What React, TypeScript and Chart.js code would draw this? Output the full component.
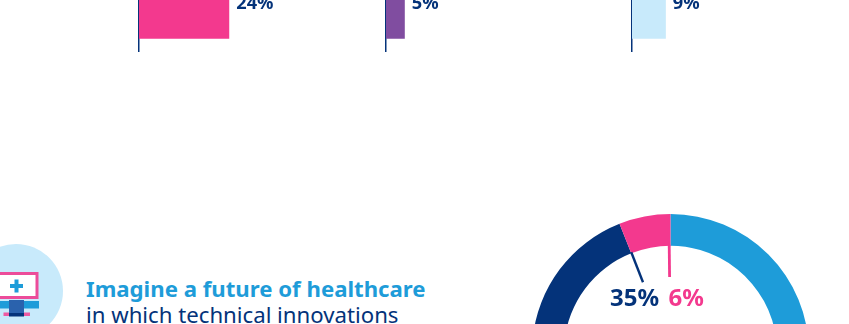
import React, { useEffect, useRef } from "react";
import { Chart, registerables } from "chart.js";

Chart.register(...registerables);

const NAVY = "#04337a";
const BLUE = "#1e9cd9";
const PINK = "#f3398e";
const PURPLE = "#804da0";
const PALE = "#c8eafb";

const barCategories = ["Option A", "Option B", "Option C"];
const barValues = [24, 5, 9];
const barColors = [PINK, PURPLE, PALE];
const barLefts = [136.5, 383.5, 629.5];

const ringLabels = ["Blue", "Navy", "Pink"];
const ringValues = [59, 35, 6];
const ringColors = [BLUE, NAVY, PINK];

const headline = "Imagine a future of healthcare";
const subline = "in which technical innovations";

const FONT = '"Noto Sans", sans-serif';

function PercentBar({ index }: { index: number }) {
  const ref = useRef<HTMLCanvasElement>(null);
  useEffect(() => {
    const chart = new Chart(ref.current!, {
      type: "bar",
      data: {
        labels: [barCategories[index]],
        datasets: [
          {
            data: [barValues[index]],
            backgroundColor: barColors[index],
            barPercentage: 0.74,
            categoryPercentage: 1,
          },
        ],
      },
      options: {
        indexAxis: "y",
        animation: false,
        responsive: false,
        layout: { padding: { left: 2, right: 0, top: 0, bottom: 0 } },
        plugins: { legend: { display: false }, tooltip: { enabled: false } },
        scales: {
          x: { display: false, min: 0, max: 50 },
          y: {
            grid: { display: false, drawTicks: false },
            border: { color: NAVY, width: 1.5 },
            ticks: { display: false },
          },
        },
      },
      plugins: [
        {
          id: "valueLabel",
          afterDatasetsDraw(c) {
            const bar = c.getDatasetMeta(0).data[0];
            const g = c.ctx;
            g.save();
            g.font = `700 18.2px ${FONT}`;
            g.fillStyle = NAVY;
            g.textAlign = "left";
            g.textBaseline = "alphabetic";
            g.fillText(`${barValues[index]}%`, bar.x + 7, bar.y + 7.5);
            g.restore();
          },
        },
      ],
    });
    return () => chart.destroy();
  }, [index]);
  return (
    <canvas
      ref={ref}
      width={190}
      height={101}
      style={{ position: "absolute", left: barLefts[index], top: -49, width: 190, height: 101 }}
    />
  );
}

function Ring() {
  const ref = useRef<HTMLCanvasElement>(null);
  useEffect(() => {
    const chart = new Chart(ref.current!, {
      type: "doughnut",
      data: {
        labels: ringLabels,
        datasets: [{ data: ringValues, backgroundColor: ringColors, borderWidth: 0 }],
      },
      options: {
        animation: false,
        responsive: false,
        cutout: "77%",
        plugins: { legend: { display: false }, tooltip: { enabled: false } },
      },
      plugins: [
        {
          id: "leaders",
          afterDatasetsDraw(c) {
            const g = c.ctx;
            const arcs = c.getDatasetMeta(0).data as any[];
            const spoke = (angle: number, from: number, to: number, color: string, w: number) => {
              const { x, y } = arcs[0];
              g.beginPath();
              g.moveTo(x + Math.cos(angle) * from, y + Math.sin(angle) * from);
              g.lineTo(x + Math.cos(angle) * to, y + Math.sin(angle) * to);
              g.strokeStyle = color;
              g.lineWidth = w;
              g.stroke();
            };
            const inner = arcs[0].innerRadius;
            g.save();
            spoke(arcs[2].startAngle + 0.004, inner + 1, 75.5, NAVY, 2.4);
            spoke(arcs[2].endAngle - 0.012, inner + 1, 75.5, PINK, 2.8);
            g.font = `700 24px ${FONT}`;
            g.textBaseline = "alphabetic";
            g.textAlign = "left";
            g.fillStyle = NAVY;
            g.fillText(`${ringValues[1]}%`, 78, 92);
            g.fillStyle = PINK;
            g.fillText(`${ringValues[2]}%`, 136.5, 92);
            g.restore();
          },
        },
      ],
    });
    return () => chart.destroy();
  }, []);
  return (
    <canvas
      ref={ref}
      width={277}
      height={277}
      style={{ position: "absolute", left: 532, top: 214, width: 277, height: 277 }}
    />
  );
}

function MonitorBadge() {
  return (
    <svg
      width={70}
      height={84}
      viewBox="0 0 70 84"
      style={{ position: "absolute", left: 0, top: 240 }}
    >
      <circle cx={16} cy={51} r={47} fill={PALE} />
      <rect x={-6} y={33.5} width={43} height={24} fill="#fff" stroke="#ec4c9a" strokeWidth={3} />
      <rect x={-6} y={61} width={45} height={7.5} fill={BLUE} />
      <rect x={3.5} y={72.5} width={26.5} height={3.5} fill="#ee5ba2" />
      <rect x={9} y={60} width={15} height={13} fill="#2a62ad" />
      <rect x={9} y={73} width={15} height={3.5} fill={NAVY} />
      <rect x={10} y={44} width={13} height={4} fill={BLUE} />
      <rect x={14.5} y={39.5} width={4} height={13} fill={BLUE} />
    </svg>
  );
}

export default function App() {
  return (
    <div
      style={{
        position: "fixed",
        left: 0,
        top: 0,
        width: 849,
        height: 324,
        overflow: "hidden",
        background: "#fff",
      }}
    >
      {barValues.map((_, i) => (
        <PercentBar key={i} index={i} />
      ))}
      <Ring />
      <MonitorBadge />
      <div
        style={{
          position: "absolute",
          left: 86,
          top: 276,
          fontFamily: FONT,
          fontSize: 22.2,
          lineHeight: "26px",
          whiteSpace: "nowrap",
          color: NAVY,
        }}
      >
        <div style={{ fontWeight: 700, color: BLUE }}>{headline}</div>
        <div>{subline}</div>
      </div>
    </div>
  );
}
